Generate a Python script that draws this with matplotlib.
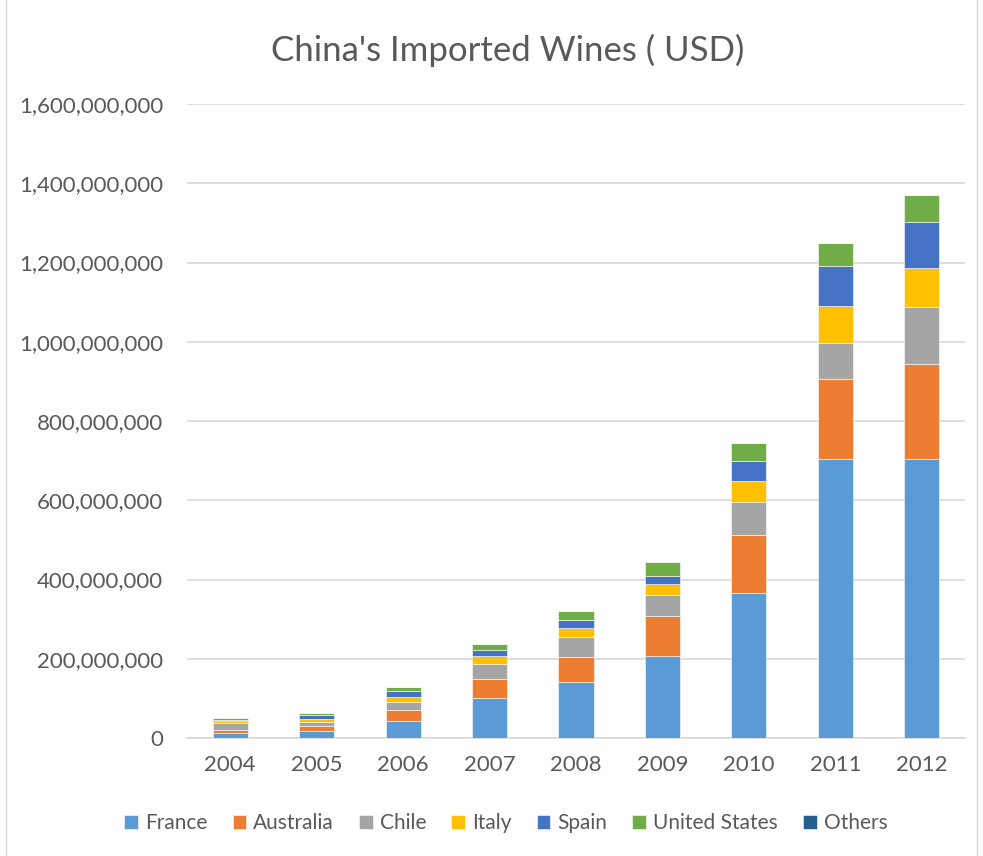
import matplotlib
matplotlib.use("Agg")
import matplotlib.pyplot as plt
from matplotlib.ticker import FuncFormatter
from matplotlib.patches import Rectangle
import numpy as np

years = ["2004", "2005", "2006", "2007", "2008", "2009", "2010", "2011", "2012"]
series_names = ["France", "Australia", "Chile", "Italy", "Spain", "United States", "Others"]

# Import values in millions of USD
france = [13, 18.5, 43, 101, 141, 206, 367, 703, 703]
australia = [6, 11.5, 27, 47, 62.6, 101, 144.5, 203, 241]
chile = [20, 10, 21.7, 38, 52, 55, 84, 91, 143]
italy = [3.5, 7, 12.4, 21.7, 22.3, 27, 53, 94, 100]
spain = [2, 11, 14.6, 14.3, 20.6, 20, 51, 99, 115]
united_states = [6, 6, 9.4, 15, 22, 36, 45, 60, 69]
others = [0, 0, 0, 0, 0, 0, 0, 0, 0]

colors = ["#5B9BD5", "#ED7D31", "#A5A5A5", "#FFC000", "#4472C4", "#70AD47", "#255E91"]

series = [france, australia, chile, italy, spain, united_states, others]

plt.rcParams["font.family"] = ["Lato", "DejaVu Sans"]
text_color = "#595959"

W, H = 983, 856
fig = plt.figure(figsize=(W / 100, H / 100), dpi=100)
ax = fig.add_axes([187 / W, (H - 738) / H, (965 - 187) / W, (738 - 104) / H])

x = np.arange(len(years))
bottom = np.zeros(len(years))
for name, vals, col in zip(series_names, series, colors):
    v = np.array(vals) * 1e6
    ax.bar(x, v, width=0.405, bottom=bottom, color=col, label=name, zorder=3,
           edgecolor="white", linewidth=0.4)
    bottom += v

ax.set_xlim(-0.5, len(years) - 0.5)
ax.set_ylim(0, 1.6e9)
ax.set_yticks(np.arange(0, 1.6e9 + 1, 2e8))
ax.yaxis.set_major_formatter(FuncFormatter(lambda v, p: f"{int(v):,}"))
ax.set_xticks(x)
ax.set_xticklabels(years)
ax.tick_params(axis="both", length=0, labelsize=16, colors=text_color)
ax.tick_params(axis="y", pad=17)
ax.tick_params(axis="x", pad=12)
ax.grid(axis="y", color="#D9D9D9", linewidth=1.2, zorder=0)
for s in ["top", "right", "left"]:
    ax.spines[s].set_visible(False)
ax.spines["bottom"].set_color("#D9D9D9")
ax.spines["bottom"].set_linewidth(1.2)

fig.text(508 / W, 1 - 50 / H, "China's Imported Wines ( USD)", ha="center", va="center",
         fontsize=25, color=text_color)

handles, labels = ax.get_legend_handles_labels()
fig.legend(handles, labels, loc="center", bbox_to_anchor=(506 / W, 1 - 823 / H), ncol=7,
           frameon=False, fontsize=15, labelcolor=text_color, handlelength=0.65,
           handleheight=0.65, handletextpad=0.35, columnspacing=1.2)

fig.patches.append(Rectangle((6 / W, -0.01), (977 - 6) / W, 1.02, transform=fig.transFigure,
                             fill=False, edgecolor="#D9D9D9", linewidth=1))

fig.savefig("out.png", dpi=100, facecolor="white")
